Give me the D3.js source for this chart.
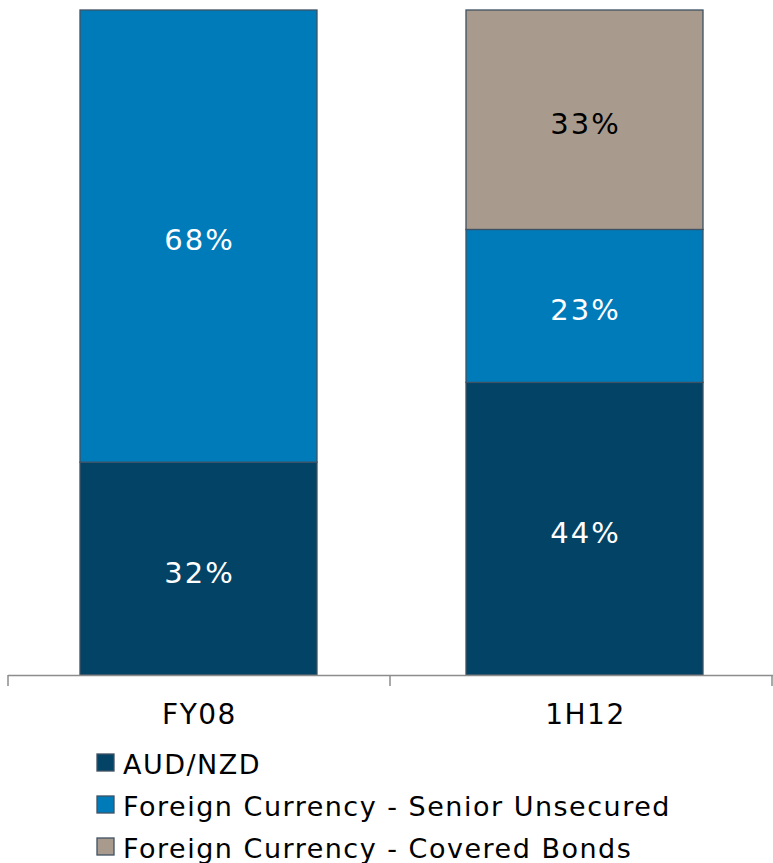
<!DOCTYPE html>
<html>
<head>
<meta charset="utf-8">
<script src="https://cdn.jsdelivr.net/npm/d3@7"></script>
<style>
  body { margin: 0; background: #fff; }
  text { font-family: "DejaVu Sans", Verdana, sans-serif; }
</style>
</head>
<body>
<script>
// Funding mix data, percent of total
var categories = ["FY08", "1H12"];
var seriesNames = ["AUD/NZD", "Foreign Currency - Senior Unsecured", "Foreign Currency - Covered Bonds"];
var audNzd = [32, 44];
var seniorUnsecured = [68, 23];
var coveredBonds = [0, 33];
var colors = ["#034466", "#007bba", "#a89b8e"];
var labelColors = ["#fff", "#fff", "#000"];

var w = 773, h = 863;
var svg = d3.select("body").append("svg").attr("width", w).attr("height", h);

// Builds rows for the stack layout
var rows = categories.map(function(c, i) {
  return { cat: c, s0: audNzd[i], s1: seniorUnsecured[i], s2: coveredBonds[i] };
});
var keys = ["s0", "s1", "s2"];
var stacked = d3.stack().keys(keys)(rows);

// Scales
var xScale = d3.scaleBand().domain(categories).range([8, 775])
               .paddingInner(0.386).paddingOuter(0.1865);
var yScale = d3.scaleLinear().domain([0, 100]).range([675, 10]);

// Bars
var groups = svg.selectAll("g.series").data(stacked).enter().append("g")
   .attr("class", "series")
   .attr("fill", function(d, i) { return colors[i]; });

groups.selectAll("rect").data(function(d) { return d; }).enter()
   .filter(function(d) { return d[1] - d[0] > 0; })
   .append("rect")
   .attr("x", function(d) { return xScale(d.data.cat); })
   .attr("y", function(d) { return yScale(d[1]); })
   .attr("width", xScale.bandwidth())
   .attr("height", function(d) { return yScale(d[0]) - yScale(d[1]); })
   .attr("stroke", "#3e5263").attr("stroke-width", 1.3);

// Value labels inside segments
stacked.forEach(function(s, i) {
  s.forEach(function(d) {
    if (d[1] - d[0] <= 0) return;
    svg.append("text")
       .attr("x", xScale(d.data.cat) + xScale.bandwidth() / 2 + 1)
       .attr("y", (yScale(d[0]) + yScale(d[1])) / 2 + 14)
       .attr("text-anchor", "middle")
       .attr("font-size", 29)
       .attr("letter-spacing", 2)
       .attr("fill", labelColors[i])
       .text((d[1] - d[0]) + "%");
  });
});

// X axis with outer ticks at band boundaries
var axis = svg.append("g").attr("stroke", "#8c8c8c").attr("stroke-width", 1.5);
axis.append("line").attr("x1", 8).attr("x2", w).attr("y1", 675.5).attr("y2", 675.5);
var tickXs = [8, 390, 772];
tickXs.forEach(function(x) {
  axis.append("line").attr("x1", x).attr("x2", x).attr("y1", 675).attr("y2", 686);
});
svg.selectAll("text.cat").data(categories).enter().append("text")
   .attr("class", "cat")
   .attr("x", function(d) { return xScale(d) + xScale.bandwidth() / 2 + 1; })
   .attr("y", 724)
   .attr("text-anchor", "middle")
   .attr("font-size", 28)
   .attr("letter-spacing", 1.5)
   .attr("fill", "#000")
   .text(function(d) { return d; });

// Legend
var legend = svg.selectAll("g.legend").data(seriesNames).enter().append("g")
   .attr("class", "legend")
   .attr("transform", function(d, i) { return "translate(97," + (754 + i * 42) + ")"; });
legend.append("rect").attr("width", 17).attr("height", 17)
   .attr("fill", function(d, i) { return colors[i]; })
   .attr("stroke", "#3e5263").attr("stroke-width", 1.3);
legend.append("text").attr("x", 26).attr("y", 20)
   .attr("font-size", 27).attr("letter-spacing", 1.5).attr("fill", "#000")
   .text(function(d) { return d; });
</script>
</body>
</html>
